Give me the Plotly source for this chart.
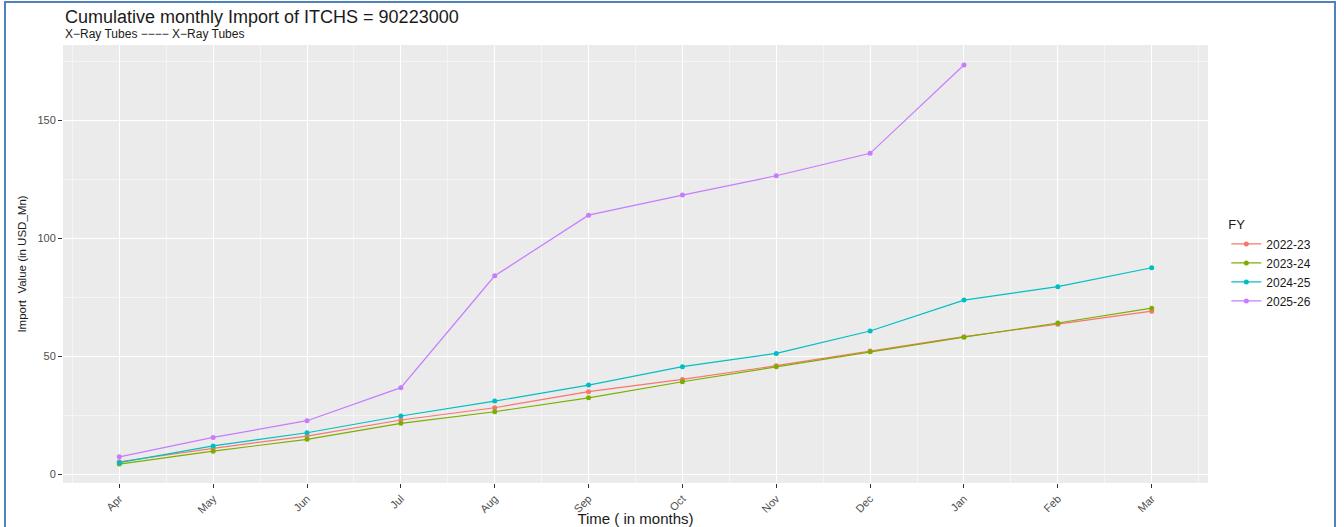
import plotly.graph_objects as go

months = ["Apr", "May", "Jun", "Jul", "Aug", "Sep", "Oct", "Nov", "Dec", "Jan", "Feb", "Mar"]
fy_labels = ["2022-23", "2023-24", "2024-25", "2025-26"]

fy_2022_23 = [5.2, 10.9, 16.1, 22.9, 28.1, 34.9, 40.1, 45.9, 52.1, 58.2, 63.5, 69.0]
fy_2023_24 = [4.2, 9.7, 14.7, 21.5, 26.4, 32.3, 39.1, 45.5, 51.8, 58.0, 64.0, 70.3]
fy_2024_25 = [4.8, 11.9, 17.5, 24.6, 30.9, 37.7, 45.5, 51.1, 60.6, 73.7, 79.4, 87.4]
fy_2025_26 = [7.3, 15.5, 22.6, 36.6, 84.0, 109.7, 118.2, 126.4, 135.9, 173.3]

series = [fy_2022_23, fy_2023_24, fy_2024_25, fy_2025_26]
colors = ["#F8766D", "#7CAE00", "#00BFC4", "#C77CFF"]

y_ticks = [0, 50, 100, 150]
y_minor = [25, 75, 125, 175]

FONT = "Liberation Sans, Arial, sans-serif"

fig = go.Figure()
for name, vals, col in zip(fy_labels, series, colors):
    xs = list(range(len(vals)))
    fig.add_trace(go.Scatter(
        x=xs, y=vals, name=name, mode="lines+markers",
        line=dict(color=col, width=1.2),
        marker=dict(color=col, size=5),
    ))

W, H = 1344, 527
L, R, T, B = 63, 136, 45, 44
pw = W - L - R
ph = H - T - B

fig.update_layout(
    width=W, height=H,
    margin=dict(l=L, r=R, t=T, b=B, autoexpand=False),
    paper_bgcolor="white",
    plot_bgcolor="#EBEBEB",
    font=dict(family=FONT, color="#4D4D4D", size=11),
    showlegend=True,
    legend=dict(
        title=dict(text="FY", font=dict(size=13, color="#1A1A1A")),
        x=1.016, xanchor="left", y=0.5, yanchor="middle",
        font=dict(size=12, color="#1A1A1A"),
        bgcolor="rgba(0,0,0,0)", itemwidth=30, tracegroupgap=0,
    ),
    xaxis=dict(
        range=[-0.6, len(months) - 1 + 0.6],
        tickvals=list(range(len(months))), ticktext=months,
        tickangle=-45, ticks="outside", ticklen=4, tickcolor="#333333",
        tickfont=dict(size=11, color="#4D4D4D"),
        showgrid=True, gridcolor="white", gridwidth=1.3,
        minor=dict(tickvals=[i + 0.5 for i in range(-1, len(months))],
                   showgrid=True, gridcolor="#F5F5F5", gridwidth=0.6, ticks=""),
        zeroline=False, showline=False,
        title=dict(text="Time ( in months)", font=dict(size=15, color="#1A1A1A"), standoff=2),
    ),
    yaxis=dict(
        range=[-3.8, 181.8],
        tickvals=y_ticks, ticks="outside", ticklen=4, tickcolor="#333333",
        tickfont=dict(size=11, color="#4D4D4D"),
        showgrid=True, gridcolor="white", gridwidth=1.3,
        minor=dict(tickvals=y_minor, showgrid=True, gridcolor="#F5F5F5", gridwidth=0.6, ticks=""),
        zeroline=False, showline=False,
        title=dict(text="Import  Value (in USD_Mn)", font=dict(size=11.5, color="#1A1A1A"), standoff=8),
    ),
)

fig.add_annotation(
    text="Cumulative monthly Import of ITCHS = 90223000",
    xref="paper", yref="paper", x=0, y=1 + (T - 5) / ph, xanchor="left", yanchor="top",
    showarrow=False, font=dict(size=18, color="#1A1A1A", family=FONT),
)
fig.add_annotation(
    text="X\u2212Ray Tubes \u2212\u2212\u2212\u2212 X\u2212Ray Tubes",
    xref="paper", yref="paper", x=0, y=1 + (T - 25) / ph, xanchor="left", yanchor="top",
    showarrow=False, font=dict(size=12, color="#1A1A1A", family=FONT),
)

# outer blue frame of the screenshot
fig.add_shape(
    type="rect", xref="paper", yref="paper",
    x0=(5 - L) / pw, x1=(1335 - L) / pw,
    y0=-(B + 2) / ph, y1=1 + (T - 2) / ph,
    line=dict(color="#4F81BD", width=2), fillcolor="rgba(0,0,0,0)", layer="above",
)

fig.write_html(
    "out.html",
    config={"displayModeBar": False},
    post_script="document.body.style.margin='0';document.body.style.overflow='hidden';",
)
